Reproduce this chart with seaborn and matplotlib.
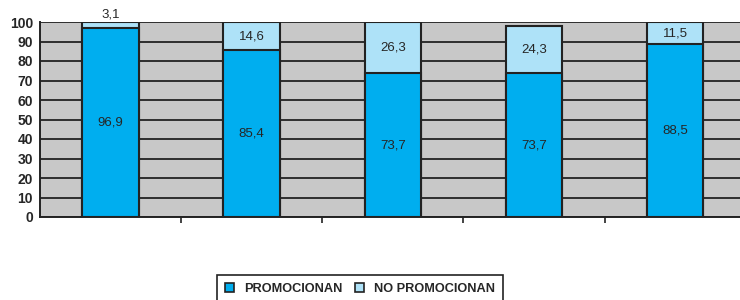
import matplotlib
matplotlib.use("Agg")
import matplotlib.pyplot as plt
import seaborn as sns
import pandas as pd
from matplotlib.patches import Patch

groups = ["G1", "G2", "G3", "G4", "G5"]
promocionan = [96.9, 85.4, 73.7, 73.7, 88.5]
no_promocionan = [3.1, 14.6, 26.3, 24.3, 11.5]
labels_promo = ["96,9", "85,4", "73,7", "73,7", "88,5"]
labels_no = ["3,1", "14,6", "26,3", "24,3", "11,5"]

dark = "#00AEEF"
light = "#AEE2F8"

sns.set_style("white")
plt.rcParams["font.family"] = ["Liberation Sans", "DejaVu Sans"]

df = pd.DataFrame({"grupo": groups, "promo": promocionan, "no": no_promocionan})
df["total"] = df["promo"] + df["no"]

fig = plt.figure(figsize=(7.4, 3.0), dpi=100)
ax = fig.add_axes([40 / 740, 1 - 217 / 300, 700 / 740, 195 / 300])
ax.set_facecolor("#C8C8C8")
ax.set_axisbelow(True)
ax.yaxis.grid(True, color="#222222", linewidth=1.3)

sns.barplot(data=df, x="grupo", y="total", color=light, width=0.4,
            edgecolor="#222222", linewidth=1.5, saturation=1, ax=ax)
sns.barplot(data=df, x="grupo", y="promo", color=dark, width=0.4,
            edgecolor="#222222", linewidth=1.5, saturation=1, ax=ax)

for i, (p, n) in enumerate(zip(promocionan, no_promocionan)):
    ax.text(i, p / 2, labels_promo[i], ha="center", va="center", fontsize=9.5)
    if n < 6:
        ax.text(i, p + n + 0.8, labels_no[i], ha="center", va="bottom",
                fontsize=9.5, clip_on=False)
    else:
        ax.text(i, p + n / 2, labels_no[i], ha="center", va="center", fontsize=9.5)

ax.set_ylim(0, 100)
ax.set_xlim(-0.5, 4.46)
ax.set_yticks(range(0, 101, 10))
ax.set_xticks([0.5, 1.5, 2.5, 3.5])
ax.set_xticklabels([])
ax.set_xlabel("")
ax.set_ylabel("")
ax.tick_params(axis="y", labelsize=10, length=4, width=1.2, color="#222222", pad=1)
ax.tick_params(axis="x", length=4, width=1.2, color="#222222", direction="out", bottom=True)
for lab in ax.get_yticklabels():
    lab.set_fontweight("bold")
for side in ["top", "right"]:
    ax.spines[side].set_visible(False)
ax.spines["left"].set_color("#222222")
ax.spines["left"].set_linewidth(1.4)
ax.spines["bottom"].set_color("#222222")
ax.spines["bottom"].set_linewidth(1.4)

handles = [Patch(facecolor=dark, edgecolor="#222222", linewidth=1.2, label="PROMOCIONAN"),
           Patch(facecolor=light, edgecolor="#222222", linewidth=1.2, label="NO PROMOCIONAN")]
leg = fig.legend(handles=handles, loc="upper center", bbox_to_anchor=(360 / 740, 31 / 300),
                 ncol=2, fancybox=False, edgecolor="#222222", framealpha=1,
                 prop={"weight": "bold", "size": 9.2}, handlelength=0.7, handleheight=0.7,
                 columnspacing=1.0, borderpad=0.6, handletextpad=0.8)
leg.get_frame().set_linewidth(1.2)

fig.savefig("out.png", dpi=100)
